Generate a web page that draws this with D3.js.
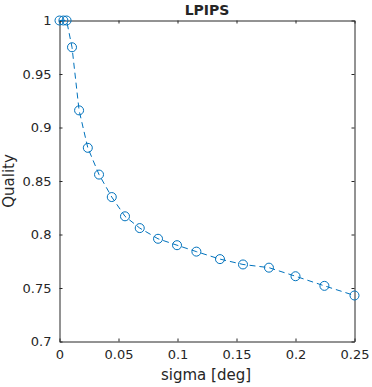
<!DOCTYPE html>
<html>
<head>
<meta charset="utf-8">
<script src="https://cdn.jsdelivr.net/npm/d3@7"></script>
<style>
  body { margin: 0; background: #fff; }
  text { font-family: "DejaVu Sans", sans-serif; fill: #262626; }
</style>
</head>
<body>
<svg width="372" height="387"></svg>
<script>
const sigma = [0, 0.0033, 0.006, 0.0106, 0.0166, 0.024, 0.0335, 0.0443, 0.0555, 0.068, 0.0835,
  0.0996, 0.116, 0.136, 0.1555, 0.1775, 0.2, 0.2245, 0.25];
const quality = [1, 1, 1, 0.975, 0.916, 0.881, 0.856, 0.835, 0.817, 0.806, 0.796,
  0.790, 0.784, 0.777, 0.772, 0.769, 0.761, 0.752, 0.743];
const xTicks = [0, 0.05, 0.1, 0.15, 0.2, 0.25];
const yTicks = [0.7, 0.75, 0.8, 0.85, 0.9, 0.95, 1];

const svg = d3.select('svg');
const margin = { top: 20.5, bottom: 45.5, left: 59.5, right: 17.5 };
const width = +svg.attr('width');
const height = +svg.attr('height');
const innerWidth = width - margin.left - margin.right;
const innerHeight = height - margin.top - margin.bottom;

const root = svg.append('g')
  .attr('transform', `translate(${margin.left}, ${margin.top})`);

const xScale = d3.scaleLinear().domain([0, 0.25]).range([0, innerWidth]);
const yScale = d3.scaleLinear().domain([0.7, 1]).range([innerHeight, 0]);

const axisColor = '#262626';
const fmt = d => d3.format('')(+d.toFixed(2));

const styleAxis = g => {
  g.selectAll('.domain').attr('stroke', axisColor);
  g.selectAll('.tick line').attr('stroke', axisColor);
  g.selectAll('.tick text').style('font-size', '13px').attr('fill', axisColor);
};

root.append('g')
  .attr('transform', `translate(0, ${innerHeight})`)
  .call(d3.axisBottom(xScale).tickValues(xTicks).tickFormat(fmt).tickSizeInner(-3).tickSizeOuter(0).tickPadding(8))
  .call(styleAxis);
root.append('g')
  .call(d3.axisTop(xScale).tickValues(xTicks).tickSizeInner(-3).tickSizeOuter(0))
  .call(styleAxis)
  .selectAll('.tick text').remove();
root.append('g')
  .call(d3.axisLeft(yScale).tickValues(yTicks).tickFormat(fmt).tickSizeInner(-3).tickSizeOuter(0).tickPadding(8))
  .call(styleAxis);
root.append('g')
  .attr('transform', `translate(${innerWidth}, 0)`)
  .call(d3.axisRight(yScale).tickValues(yTicks).tickSizeInner(-3).tickSizeOuter(0))
  .call(styleAxis)
  .selectAll('.tick text').remove();

const data = sigma.map((s, i) => ({ s, q: quality[i] }));
const color = '#0072BD';

const line = d3.line()
  .x(d => xScale(d.s))
  .y(d => yScale(d.q));

root.append('path')
  .attr('d', line(data))
  .attr('fill', 'none')
  .attr('stroke', color)
  .attr('stroke-width', 1)
  .attr('stroke-dasharray', '6,4');

root.selectAll('circle')
  .data(data)
  .enter().append('circle')
  .attr('cx', d => xScale(d.s))
  .attr('cy', d => yScale(d.q))
  .attr('r', 4.5)
  .attr('fill', 'none')
  .attr('stroke', color)
  .attr('stroke-width', 1);

svg.append('text')
  .attr('x', margin.left + innerWidth / 2)
  .attr('y', 15)
  .attr('text-anchor', 'middle')
  .style('font-size', '14px')
  .style('font-weight', 'bold')
  .attr('fill', '#000')
  .text('LPIPS');

svg.append('text')
  .attr('x', 206)
  .attr('y', 380)
  .attr('text-anchor', 'middle')
  .style('font-size', '15px')
  .text('sigma [deg]');

svg.append('text')
  .attr('transform', `translate(14, ${margin.top + innerHeight / 2}) rotate(-90)`)
  .attr('text-anchor', 'middle')
  .style('font-size', '15px')
  .text('Quality');
</script>
</body>
</html>
